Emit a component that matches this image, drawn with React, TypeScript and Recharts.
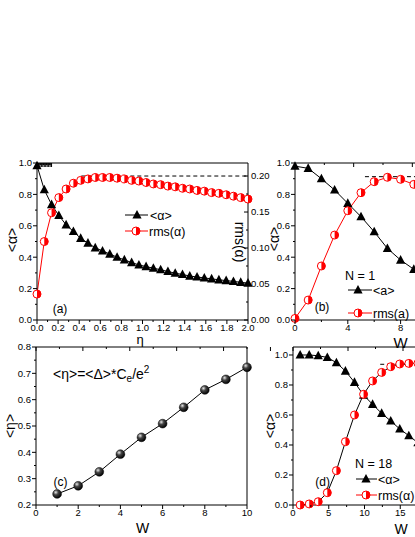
import React from 'react';
import { ComposedChart, Line, XAxis, YAxis, ReferenceLine } from 'recharts';

const FONT = '"Liberation Sans", Arial, Helvetica, sans-serif';

// (a) <alpha> and rms(alpha) versus eta
const etaA = [0, 0.069, 0.138, 0.207, 0.276, 0.345, 0.414, 0.483, 0.552, 0.621, 0.69, 0.759, 0.828, 0.897, 0.966,
  1.034, 1.103, 1.172, 1.241, 1.31, 1.379, 1.448, 1.517, 1.586, 1.655, 1.724, 1.793, 1.862, 1.931, 2.0];
const alphaA = [0.983, 0.83, 0.735, 0.666, 0.606, 0.564, 0.52, 0.49, 0.46, 0.44, 0.42, 0.4, 0.383, 0.366, 0.351,
  0.34, 0.33, 0.32, 0.309, 0.298, 0.29, 0.28, 0.274, 0.268, 0.262, 0.256, 0.251, 0.246, 0.24, 0.235];
const rmsA = [0.036, 0.109, 0.149, 0.17, 0.182, 0.19, 0.194, 0.196, 0.198, 0.198, 0.198, 0.197, 0.196, 0.194, 0.193,
  0.191, 0.189, 0.188, 0.186, 0.185, 0.183, 0.182, 0.18, 0.179, 0.177, 0.176, 0.174, 0.172, 0.17, 0.168];

// (b) N = 1
const wB = [0, 1, 2, 3, 4, 5, 6, 7, 8, 9];
const alphaB = [0.98, 0.966, 0.9, 0.828, 0.743, 0.658, 0.562, 0.456, 0.382, 0.323];
const rmsB = [0.01, 0.127, 0.344, 0.541, 0.696, 0.811, 0.881, 0.909, 0.896, 0.864];

// (c) <eta> versus W
const wC = [1, 2, 3, 4, 5, 6, 7, 8, 9, 10];
const etaC = [0.242, 0.273, 0.326, 0.393, 0.457, 0.509, 0.571, 0.637, 0.677, 0.723];

// (d) N = 18
const wD = [1, 2.27, 3.53, 4.8, 6.07, 7.33, 8.6, 9.87, 11.13, 12.4, 13.67, 14.93, 16.2, 17.47];
const alphaD = [1.0, 1.0, 0.995, 0.984, 0.949, 0.893, 0.818, 0.733, 0.671, 0.611, 0.56, 0.507, 0.462, 0.415];
const rmsD = [0.0, 0.007, 0.022, 0.082, 0.229, 0.422, 0.6, 0.738, 0.827, 0.884, 0.922, 0.94, 0.944, 0.945];

// ticks (major + minor)
const ticksAx = [0, 0.1, 0.2, 0.3, 0.4, 0.5, 0.6, 0.7, 0.8, 0.9, 1.0, 1.1, 1.2, 1.3, 1.4, 1.5, 1.6, 1.7, 1.8, 1.9, 2.0];
const majorAx = [0, 0.2, 0.4, 0.6, 0.8, 1.0, 1.2, 1.4, 1.6, 1.8, 2.0];
const ticksAl = [0, 0.1, 0.2, 0.3, 0.4, 0.5, 0.6, 0.7, 0.8, 0.9, 1.0];
const majorAl = [0, 0.2, 0.4, 0.6, 0.8, 1.0];
const ticksAr = [0, 0.025, 0.05, 0.075, 0.1, 0.125, 0.15, 0.175, 0.2];
const majorAr = [0, 0.05, 0.1, 0.15, 0.2];
const ticksBx = [0, 2, 4, 6, 8, 10];
const majorBx = [0, 4, 8];
const ticksCx = [0, 1, 2, 3, 4, 5, 6, 7, 8, 9, 10];
const majorCx = [0, 2, 4, 6, 8, 10];
const ticksCy = [0.2, 0.25, 0.3, 0.35, 0.4, 0.45, 0.5, 0.55, 0.6, 0.65, 0.7, 0.75, 0.8];
const majorCy = [0.2, 0.3, 0.4, 0.5, 0.6, 0.7, 0.8];
const ticksDx = [0, 2.5, 5, 7.5, 10, 12.5, 15, 17.5, 20];
const majorDx = [0, 5, 10, 15, 20];

const f0 = (v: number) => String(v);
const f1 = (v: number) => v.toFixed(1);
const f2 = (v: number) => v.toFixed(2);
// (d) is cut by the page edge: the 20 label falls outside the picture
const fD = (v: number) => (v < 20 ? String(v) : '');

type Side = 'bottom' | 'top' | 'left' | 'right';
const DIR: Record<Side, number[]> = { bottom: [0, 1], top: [0, -1], left: [-1, 0], right: [1, 0] };

const frameTick = (side: Side, major: number[], fmt: ((v: number) => string) | null, inward: boolean) =>
  (props: any) => {
    const { x, y, payload, index } = props;
    const v = payload.value;
    const isMajor = major.some((m) => Math.abs(m - v) < 1e-6);
    const len = (isMajor ? 4 : 2) * (inward ? -1 : 1);
    const [dx, dy] = DIR[side];
    const txt = fmt && isMajor ? fmt(v) : '';
    let label = null;
    if (txt) {
      if (side === 'bottom') label = <text x={x} y={y + 11} textAnchor="middle">{txt}</text>;
      else if (side === 'left') label = <text x={x - 5} y={y + 3.4} textAnchor="end">{txt}</text>;
      else if (side === 'right') label = <text x={x + 3} y={y + 3.4} textAnchor="start">{txt}</text>;
    }
    return (
      <g key={`${side}-${index}`} fontFamily={FONT} fontSize={9.5} fill="#000">
        <line x1={x} y1={y} x2={x + dx * len} y2={y + dy * len} stroke="#000" strokeWidth={1} />
        {label}
      </g>
    );
  };

const triDot = (props: any) => {
  const { cx, cy, index } = props;
  if (cx == null || cy == null) return <g key={`t${index}`} />;
  return <path key={`t${index}`} d={`M${cx},${cy - 5} L${cx + 4.6},${cy + 3.6} L${cx - 4.6},${cy + 3.6} Z`} fill="#000" />;
};

const HalfCircle = ({ cx, cy, r = 4 }: { cx: number; cy: number; r?: number }) => (
  <g>
    <circle cx={cx} cy={cy} r={r} fill="#fff" stroke="#f00" strokeWidth={1} />
    <path d={`M${cx},${cy - r} A${r},${r} 0 0 1 ${cx},${cy + r} Z`} fill="#f00" />
  </g>
);

const halfDot = (props: any) => {
  const { cx, cy, index } = props;
  if (cx == null || cy == null) return <g key={`h${index}`} />;
  return <g key={`h${index}`}><HalfCircle cx={cx} cy={cy} /></g>;
};

const ballDot = (props: any) => {
  const { cx, cy, index } = props;
  if (cx == null || cy == null) return <g key={`b${index}`} />;
  return <circle key={`b${index}`} cx={cx} cy={cy} r={4.4} fill="url(#ball)" stroke="#000" strokeWidth={0.5} />;
};

const axisLine = { stroke: '#000', strokeWidth: 1 };
const common = { tickLine: false, tickSize: 0, tickMargin: 0, interval: 0 as const, axisLine };

const dataA = etaA.map((e, i) => ({ x: e, alpha: alphaA[i], rms: rmsA[i] }));
const dataB = wB.map((w, i) => ({ x: w, alpha: alphaB[i], rms: rmsB[i] }));
const dataC = wC.map((w, i) => ({ x: w, eta: etaC[i] }));
const dataD = wD.map((w, i) => ({ x: w, alpha: alphaD[i], rms: rmsD[i] }));

const Tri = ({ x, y }: { x: number; y: number }) => (
  <path d={`M${x},${y - 5} L${x + 4.6},${y + 3.6} L${x - 4.6},${y + 3.6} Z`} fill="#000" />
);

const App: React.FC = () => {
  return (
    <div style={{ position: 'absolute', left: 0, top: 0, width: 415, height: 537, overflow: 'hidden', background: '#fff' }}>
      {/* (a) */}
      <div style={{ position: 'absolute', left: 0, top: 150 }}>
        <ComposedChart width={300} height={200} data={dataA} margin={{ top: 13, right: 51, bottom: 29, left: 36 }}>
          <XAxis xAxisId="b" dataKey="x" type="number" domain={[0, 2]} ticks={ticksAx} height={1} {...common}
            tick={frameTick('bottom', majorAx, f1, false)} />
          <XAxis xAxisId="t" orientation="top" mirror type="number" domain={[0, 2]} ticks={ticksAx} height={1} {...common}
            tick={frameTick('top', majorAx, null, true)} />
          <YAxis yAxisId="l" type="number" domain={[0, 1]} ticks={ticksAl} width={1} {...common}
            tick={frameTick('left', majorAl, f1, false)} />
          <YAxis yAxisId="r" orientation="right" type="number" domain={[0, 0.2181]} ticks={ticksAr} width={1} {...common}
            tick={frameTick('right', majorAr, f2, true)} />
          <ReferenceLine xAxisId="b" yAxisId="r" segment={[{ x: 0.42, y: 0.2 }, { x: 2, y: 0.2 }]} stroke="#000" strokeDasharray="4 3" />
          <Line xAxisId="b" yAxisId="l" dataKey="alpha" stroke="#000" strokeWidth={1} dot={triDot} activeDot={false} isAnimationActive={false} />
          <Line xAxisId="b" yAxisId="r" dataKey="rms" stroke="#f00" strokeWidth={1} dot={halfDot} activeDot={false} isAnimationActive={false} />
        </ComposedChart>
      </div>

      {/* (b) */}
      <div style={{ position: 'absolute', left: 250, top: 150 }}>
        <ComposedChart width={200} height={200} data={dataB} margin={{ top: 13, right: 23, bottom: 29, left: 44 }}>
          <XAxis xAxisId="b" dataKey="x" type="number" domain={[0, 10]} ticks={ticksBx} height={1} {...common}
            tick={frameTick('bottom', majorBx, f0, false)} />
          <XAxis xAxisId="t" orientation="top" mirror type="number" domain={[0, 10]} ticks={ticksBx} height={1} {...common}
            tick={frameTick('top', majorBx, null, true)} />
          <YAxis yAxisId="l" type="number" domain={[0, 1]} ticks={ticksAl} width={1} {...common}
            tick={frameTick('left', majorAl, f1, false)} />
          <ReferenceLine xAxisId="b" yAxisId="l" segment={[{ x: 5.3, y: 0.913 }, { x: 10, y: 0.913 }]} stroke="#000" strokeDasharray="4 3" />
          <Line xAxisId="b" yAxisId="l" dataKey="alpha" stroke="#000" strokeWidth={1} dot={triDot} activeDot={false} isAnimationActive={false} />
          <Line xAxisId="b" yAxisId="l" dataKey="rms" stroke="#f00" strokeWidth={1} dot={halfDot} activeDot={false} isAnimationActive={false} />
        </ComposedChart>
      </div>

      {/* (c) */}
      <div style={{ position: 'absolute', left: 0, top: 340 }}>
        <ComposedChart width={300} height={197} data={dataC} margin={{ top: 7, right: 53, bottom: 31, left: 35 }}>
          <defs>
            <radialGradient id="ball" cx="35%" cy="32%" r="70%">
              <stop offset="0%" stopColor="#e8e8e8" />
              <stop offset="40%" stopColor="#444" />
              <stop offset="100%" stopColor="#000" />
            </radialGradient>
          </defs>
          <XAxis xAxisId="b" dataKey="x" type="number" domain={[0, 10]} ticks={ticksCx} height={1} {...common}
            tick={frameTick('bottom', majorCx, f0, false)} />
          <XAxis xAxisId="t" orientation="top" mirror type="number" domain={[0, 10]} ticks={ticksCx} height={1} {...common}
            tick={frameTick('top', majorCx, null, true)} />
          <YAxis yAxisId="l" type="number" domain={[0.2, 0.8]} ticks={ticksCy} width={1} {...common}
            tick={frameTick('left', majorCy, f1, false)} />
          <YAxis yAxisId="r" orientation="right" mirror type="number" domain={[0.2, 0.8]} ticks={ticksCy} width={1} {...common}
            tick={frameTick('right', majorCy, null, true)} />
          <Line xAxisId="b" yAxisId="l" dataKey="eta" stroke="#000" strokeWidth={1} dot={ballDot} activeDot={false} isAnimationActive={false} />
        </ComposedChart>
      </div>

      {/* (d) */}
      <div style={{ position: 'absolute', left: 250, top: 340 }}>
        <ComposedChart width={200} height={197} data={dataD} margin={{ top: 7, right: 14, bottom: 31, left: 42 }}>
          <XAxis xAxisId="b" dataKey="x" type="number" domain={[0, 20]} ticks={ticksDx} height={1} {...common}
            tick={frameTick('bottom', majorDx, fD, false)} />
          <XAxis xAxisId="t" orientation="top" mirror type="number" domain={[0, 20]} ticks={ticksDx} height={1} {...common}
            tick={frameTick('top', majorDx, null, true)} />
          <YAxis yAxisId="l" type="number" domain={[0, 1.0533]} ticks={ticksAl} width={1} {...common}
            tick={frameTick('left', majorAl, f1, false)} />
          <ReferenceLine xAxisId="b" yAxisId="l" segment={[{ x: 12.2, y: 0.938 }, { x: 20, y: 0.938 }]} stroke="#000" strokeDasharray="4 3" />
          <Line xAxisId="b" yAxisId="l" dataKey="alpha" stroke="#000" strokeWidth={1} dot={triDot} activeDot={false} isAnimationActive={false} />
          <Line xAxisId="b" yAxisId="l" dataKey="rms" stroke="#000" strokeWidth={1} dot={halfDot} activeDot={false} isAnimationActive={false} />
        </ComposedChart>
      </div>

      {/* titles, legends, panel labels */}
      <svg width={415} height={537} style={{ position: 'absolute', left: 0, top: 0, pointerEvents: 'none' }}
        fontFamily={FONT} fill="#000">
        {/* (a) */}
        <text transform="translate(17,240) rotate(-90)" textAnchor="middle" fontSize={14}>{'<α>'}</text>
        <text x={140} y={344} textAnchor="middle" fontSize={13}>η</text>
        <text transform="translate(235,242) rotate(90)" textAnchor="middle" fontSize={14}>rms(α)</text>
        <text x={60} y={313} textAnchor="middle" fontSize={12}>(a)</text>
        <line x1={125} y1={215} x2={148} y2={215} stroke="#000" />
        <Tri x={137} y={215} />
        <text x={150} y={219.5} fontSize={12.5}>{'<α>'}</text>
        <line x1={125} y1={231} x2={148} y2={231} stroke="#f00" />
        <HalfCircle cx={136} cy={231} />
        <text x={149} y={235.5} fontSize={12.5}>rms(α)</text>

        {/* (b) */}
        <text transform="translate(279,239) rotate(-90)" textAnchor="middle" fontSize={14}>{'<α>'}</text>
        <text x={400.5} y={348} textAnchor="middle" fontSize={15}>W</text>
        <text x={322} y={311} textAnchor="middle" fontSize={12}>(b)</text>
        <text x={345} y={279.5} fontSize={12.5}>N = 1</text>
        <line x1={348} y1={290} x2={372} y2={290} stroke="#000" />
        <Tri x={358} y={290} />
        <text x={373} y={294.5} fontSize={12.5}>{'<a>'}</text>
        <line x1={348} y1={313} x2={372} y2={313} stroke="#f00" />
        <HalfCircle cx={358} cy={313} />
        <text x={373} y={317.5} fontSize={12.5}>rms(a)</text>

        {/* (c) */}
        <text transform="translate(15,426) rotate(-90)" textAnchor="middle" fontSize={14}>{'<η>'}</text>
        <text x={142.5} y={533} textAnchor="middle" fontSize={14}>W</text>
        <text x={60.5} y={486} textAnchor="middle" fontSize={12}>(c)</text>
        <text x={53} y={379} fontSize={14}>
          {'<η>=<Δ>*C'}
          <tspan fontSize={10} dy={3}>e</tspan>
          <tspan dy={-3}>/e</tspan>
          <tspan fontSize={10} dy={-6}>2</tspan>
        </text>

        {/* (d) */}
        <text transform="translate(275,426) rotate(-90)" textAnchor="middle" fontSize={14}>{'<α>'}</text>
        <text x={401} y={534} textAnchor="middle" fontSize={14}>W</text>
        <text x={322.7} y={486} textAnchor="middle" fontSize={12}>(d)</text>
        <text x={355} y={467.5} fontSize={12.5}>N = 18</text>
        <line x1={356} y1={479} x2={377} y2={479} stroke="#000" />
        <Tri x={366} y={479} />
        <text x={378} y={483.5} fontSize={12.5}>{'<α>'}</text>
        <line x1={356} y1={495} x2={377} y2={495} stroke="#f00" />
        <HalfCircle cx={366} cy={495} />
        <text x={378} y={499.5} fontSize={12.5}>rms(α)</text>
      </svg>
    </div>
  );
};

export default App;
